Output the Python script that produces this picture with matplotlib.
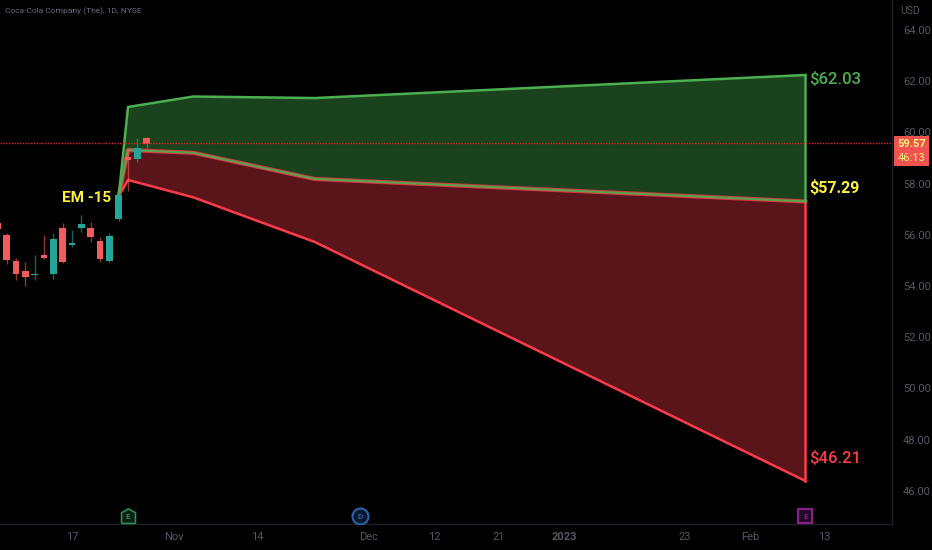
import matplotlib
matplotlib.use('Agg')
import matplotlib.pyplot as plt

plt.rcParams['font.family'] = ['Roboto', 'DejaVu Sans']

# candles: bar number, open, high, low, close
bars   = [-13, -12, -11, -10, -9, -8, -7, -6, -5, -4, -3, -2, -1, 0, 1, 2, 3]
opens  = [56.47, 55.98, 54.96, 54.57, 54.42, 55.21, 54.46, 56.28, 55.60, 56.27, 56.28, 55.76, 54.98, 56.62, 59.03, 58.96, 59.77]
highs  = [56.60, 56.08, 55.08, 54.93, 55.21, 55.99, 56.06, 56.45, 56.19, 56.77, 56.51, 55.90, 56.08, 57.68, 59.40, 59.77, 59.83]
lows   = [56.10, 54.86, 54.23, 54.01, 54.23, 55.04, 54.26, 54.89, 55.54, 56.10, 55.72, 54.95, 54.95, 56.55, 57.70, 58.86, 59.38]
closes = [56.21, 55.00, 54.48, 54.34, 54.47, 55.11, 55.84, 54.94, 55.68, 56.42, 55.93, 55.05, 55.95, 57.55, 58.92, 59.39, 59.53]

# expected move cone
cone_x   = [0, 1, 8, 21, 73.6]
cone_up  = [57.50, 60.99, 61.40, 61.34, 62.24]
cone_mid = [57.50, 59.31, 59.20, 58.18, 57.30]
cone_low = [57.50, 58.14, 57.46, 55.72, 46.38]

price_ticks = [46, 48, 50, 52, 54, 56, 58, 60, 62, 64]
time_ticks  = [-5, 5.9, 14.9, 26.8, 33.8, 40.7, 47.8, 60.7, 67.7, 75.6]
time_labels = ['17', 'Nov', '14', 'Dec', '12', '21', '2023', '23', 'Feb', '13']
last_price = 59.57

GREEN = '#4caf50'
RED = '#ff3b4a'
UP = '#f45b5b'
DOWN = '#26a69a'
AXIS = '#1e2029'
GREY = '#555862'
YELLOW = '#fff23a'

fig = plt.figure(figsize=(9.32, 5.5), dpi=100, facecolor='black')
ax = fig.add_axes([0, 26 / 550, 892 / 932, 524 / 550], facecolor='black')
ax.set_xlim(-12.72, 82.88)
ax.set_ylim(44.70, 65.17)

# ---------------- cone ----------------
ax.fill_between(cone_x, cone_mid, cone_up, color='#1a431d', lw=0, zorder=1)
ax.fill_between(cone_x, cone_low, cone_mid, color='#5a151b', lw=0, zorder=1)
ax.plot(cone_x, cone_low, color=RED, lw=1.8, zorder=2)
ax.plot([cone_x[-1], cone_x[-1]], [cone_low[-1], cone_mid[-1]], color=RED, lw=1.8, zorder=2)
ax.plot(cone_x, cone_mid, color=RED, lw=3, alpha=0.8, zorder=2)
ax.plot(cone_x, cone_mid, color=GREEN, lw=1.5, alpha=0.9, zorder=2)
ax.plot(cone_x, cone_up, color=GREEN, lw=1.8, zorder=2)
ax.plot([cone_x[-1], cone_x[-1]], [cone_mid[-1], cone_up[-1]], color=GREEN, lw=1.8, zorder=2)

# ---------------- candles ----------------
for b, o, h, l, c in zip(bars, opens, highs, lows, closes):
    col = DOWN if c > o else UP
    ax.plot([b, b], [l, h], color=col, lw=1, alpha=0.6, zorder=3, solid_capstyle='butt')
    ax.bar(b, abs(c - o), bottom=min(o, c), width=0.72, color=col, lw=0, zorder=4)

ax.axhline(last_price, color='#e0202a', lw=1, ls=(0, (1, 1)), zorder=5)

# ---------------- labels ----------------
ax.text(-0.85, 57.45, 'EM -15', color=YELLOW, fontsize=11, fontweight='bold',
        ha='right', va='center', zorder=6)
ax.text(74.0, 62.07, '$62.03', color=GREEN, fontsize=12, fontweight='medium', ha='left', va='center')
ax.text(74.0, 57.83, '$57.29', color=YELLOW, fontsize=11.5, fontweight='bold', ha='left', va='center')
ax.text(74.0, 47.24, '$46.21', color=RED, fontsize=12, fontweight='medium', ha='left', va='center')

# event markers on the time axis
house = [(-1, -1), (1, -1), (1, 0.55), (0, 1.1), (-1, 0.55), (-1, -1)]
ax.plot([1], [45.02], marker=house, ms=11, mfc='#0b1f14', mec='#2a8a5a', mew=1.2, ls='none', zorder=6)
ax.text(1, 45.0, 'E', color='#2a8a5a', fontsize=6, fontweight='bold', ha='center', va='center', zorder=7)
ax.plot([25.9], [45.02], marker='o', ms=11.5, mfc='#0a1830', mec='#2962a8', mew=1.5, ls='none', zorder=6)
ax.text(25.9, 45.0, 'D', color='#2962a8', fontsize=6, fontweight='bold', ha='center', va='center', zorder=7)
ax.plot([73.6], [45.02], marker='s', ms=10.5, mfc='#200a24', mec='#8e1a8e', mew=1.5, ls='none', zorder=6)
ax.text(73.6, 45.0, 'E', color='#8e1a8e', fontsize=6, fontweight='bold', ha='center', va='center', zorder=7)

# ---------------- axes ----------------
for side in ['top', 'left']:
    ax.spines[side].set_visible(False)
for side in ['right', 'bottom']:
    ax.spines[side].set_color(AXIS)
    ax.spines[side].set_linewidth(1)
ax.yaxis.tick_right()
ax.set_yticks(price_ticks, ['%.2f' % p for p in price_ticks])
ax.set_xticks(time_ticks, time_labels)
ax.tick_params(axis='y', length=0, pad=8, labelsize=8, labelcolor=GREY)
ax.tick_params(axis='x', length=0, pad=6, labelsize=8, labelcolor=GREY)
ax.get_xticklabels()[6].set_fontweight('bold')

fig.text(5 / 932, 1 - 11 / 550, 'Coca-Cola Company (The), 1D, NYSE', color='#6a6d78', fontsize=6, va='center')
fig.text(900 / 932, 1 - 11 / 550, 'USD', color=GREY, fontsize=7.5, va='center')

# last price box
fig.patches.append(plt.Rectangle((894 / 932, 1 - 165.5 / 550), 35 / 932, 29.5 / 550, transform=fig.transFigure,
                                 facecolor='#f05350', edgecolor='none', figure=fig))
fig.text(911.5 / 932, 1 - 144 / 550, '%.2f' % last_price, color='#fff27a', fontsize=8, fontweight='bold', ha='center', va='center')
fig.text(911.5 / 932, 1 - 158 / 550, '46:13', color='#fff27a', fontsize=8, ha='center', va='center')

fig.savefig('out.png', dpi=100, facecolor='black')
